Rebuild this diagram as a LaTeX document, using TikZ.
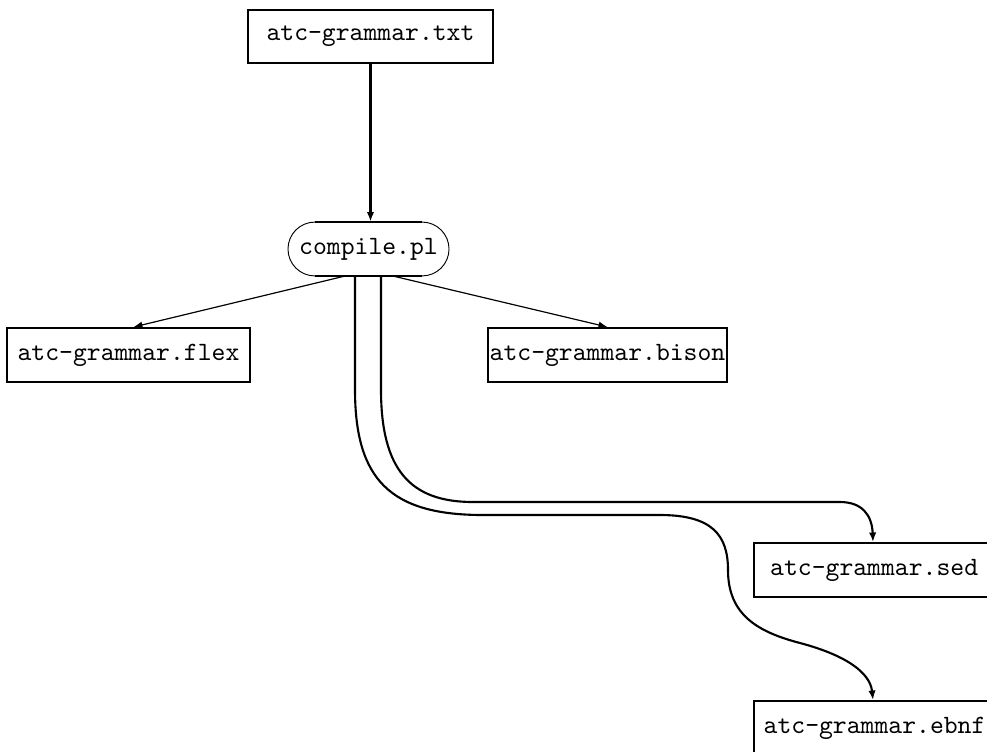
\documentclass[tikz,border=0pt]{standalone}
\usetikzlibrary{shapes.misc,arrows.meta,calc}
\begin{document}
\begin{tikzpicture}[x=0.3788pt,y=-0.3788pt,
  filebox/.style={draw,line width=0.8pt,inner sep=0pt,font=\ttfamily,minimum height=20.4pt},
  tool/.style={draw,line width=0.35pt,rounded rectangle,inner sep=0pt,font=\ttfamily,minimum width=61pt,minimum height=20.4pt},
  flow/.style={line width=0.8pt,-{Latex[length=3.6pt,width=2.8pt]}},
  thinflow/.style={line width=0.45pt,-{Latex[length=3.4pt,width=2.6pt]}}]
\useasboundingbox (0,0) rectangle (987,751);
\clip (0,0) rectangle (987,751);

% files and the script that generates them
\node[filebox,minimum width=92.8pt] (txt) at (370.5,36.5) {atc-grammar.txt};
\node[tool] (pl) at (368.5,249) {compile.pl};
\node[filebox,minimum width=92pt] (flex) at (128.5,355) {atc-grammar.flex};
\node[filebox,minimum width=90.5pt] (bison) at (607.5,355) {atc-grammar.bison};
\node[filebox,minimum width=91pt,anchor=north west] (sed) at (753,542) {atc-grammar.sed};
\node[filebox,minimum width=91.3pt,anchor=north west] (ebnf) at (753,700) {atc-grammar.ebnf};

% heavier straight edges of the script node
\draw[line width=0.8pt] ($(pl.north)+(-53.5,0)$) -- ($(pl.north)+(53.5,0)$);
\draw[line width=0.8pt] ($(pl.south)+(-53.5,0)$) -- ($(pl.south)+(53.5,0)$);

% connectors
\draw[flow] (txt.south) -- (txt.south |- pl.north);
\draw[thinflow] ($(pl.south)+(-25,0)$) -- ($(flex.north)+(5,0)$);
\draw[thinflow] ($(pl.south)+(26,0)$) -- (bison.north);
\draw[flow] ($(pl.south)+(12.5,0)$) -- ++(0,113)
  .. controls ++(0,80) and (410,502) .. (473,502) -- (840,502)
  .. controls (862,502) and (872,515) .. ($(sed.north west)+(120,0)$);
\draw[flow] ($(pl.south)+(-13.5,0)$) -- ++(0,113)
  .. controls ++(0,90) and (390,515) .. (483,515) -- (660,515)
  .. controls (712,515) and (728,535) .. (728,570)
  .. controls (728,615) and (758,632) .. (800,643)
  .. controls (845,655) and (870,672) .. ($(ebnf.north west)+(120,0)$);
\end{tikzpicture}
\end{document}
